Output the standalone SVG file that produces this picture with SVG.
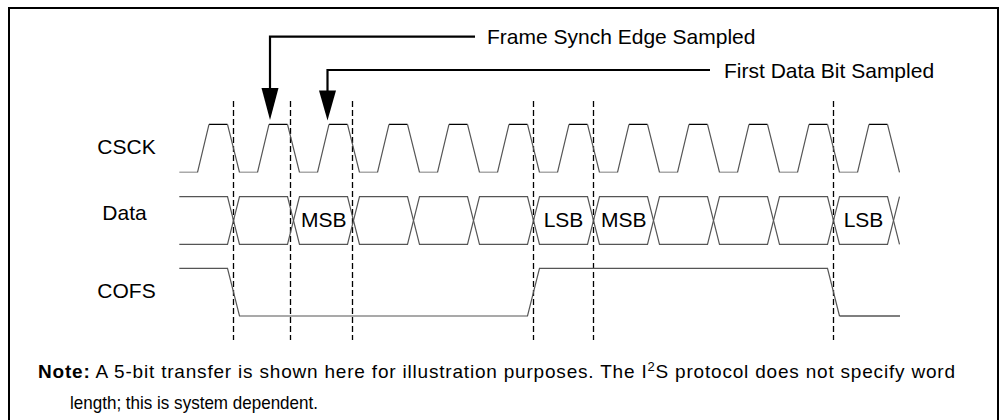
<svg xmlns="http://www.w3.org/2000/svg" width="1005" height="420" viewBox="0 0 1005 420">
<style>
  .lbl { font-family: "Liberation Sans", Arial, sans-serif; font-size: 21px; fill: #000; }
  .note { font-family: "Liberation Sans", Arial, sans-serif; font-size: 19px; fill: #000; }
  .wave { fill: none; stroke: #555; stroke-width: 1.2; }
  .hi { fill: none; stroke: #000; stroke-width: 1.2; }
  .lo { fill: none; stroke: #aaa; stroke-width: 1.5; }
  .dash { stroke: #000; stroke-width: 1.3; stroke-dasharray: 6 3; fill: none; }
  .arr { stroke: #000; stroke-width: 2.2; fill: none; }
</style>
<rect x="0" y="0" width="1005" height="420" fill="#fff"/>
<rect id="frame" x="9" y="8" width="989" height="430" fill="none" stroke="#000" stroke-width="2"/>

<g id="dashed-markers">
  <line class="dash" x1="233.5" y1="101" x2="233.5" y2="340"/>
  <line class="dash" x1="290.5" y1="101" x2="290.5" y2="340"/>
  <line class="dash" x1="352.5" y1="101" x2="352.5" y2="340"/>
  <line class="dash" x1="533.5" y1="101" x2="533.5" y2="340"/>
  <line class="dash" x1="593.5" y1="101" x2="593.5" y2="340"/>
  <line class="dash" x1="833.5" y1="101" x2="833.5" y2="340"/>
</g>

<g id="csck">
  <text class="lbl" x="126.5" y="154.3" text-anchor="middle">CSCK</text>
  <path class="lo" d="M179.3 172.3H197.5 M239.5 172.3H257.5 M299.5 172.3H317.5 M359.5 172.3H377.5 M419.5 172.3H437.5 M479.5 172.3H497.5 M539.5 172.3H557.5 M599.5 172.3H617.5 M659.5 172.3H677.5 M719.5 172.3H737.5 M779.5 172.3H797.5 M839.5 172.3H857.5"/>
  <path class="hi" d="M209 124.3H227.5 M269 124.3H287.5 M329 124.3H347.5 M389 124.3H407.5 M449 124.3H467.5 M509 124.3H527.5 M569 124.3H587.5 M629 124.3H647.5 M689 124.3H707.5 M749 124.3H767.5 M809 124.3H827.5 M869 124.3H887.5"/>
  <path class="wave" d="M197.5 172.3L209 124.3M227.5 124.3L239.5 172.3 M257.5 172.3L269 124.3M287.5 124.3L299.5 172.3 M317.5 172.3L329 124.3M347.5 124.3L359.5 172.3 M377.5 172.3L389 124.3M407.5 124.3L419.5 172.3 M437.5 172.3L449 124.3M467.5 124.3L479.5 172.3 M497.5 172.3L509 124.3M527.5 124.3L539.5 172.3 M557.5 172.3L569 124.3M587.5 124.3L599.5 172.3 M617.5 172.3L629 124.3M647.5 124.3L659.5 172.3 M677.5 172.3L689 124.3M707.5 124.3L719.5 172.3 M737.5 172.3L749 124.3M767.5 124.3L779.5 172.3 M797.5 172.3L809 124.3M827.5 124.3L839.5 172.3 M857.5 172.3L869 124.3M887.5 124.3L899.5 172.3"/>
</g>

<g id="data">
  <text class="lbl" x="124.5" y="220" text-anchor="middle">Data</text>
  <path class="wave" d="M179.3 196.7H227.5L239.5 244.3H287.5L299.5 196.7H347.5L359.5 244.3H407.5L419.5 196.7H467.5L479.5 244.3H527.5L539.5 196.7H587.5L599.5 244.3H647.5L659.5 196.7H707.5L719.5 244.3H767.5L779.5 196.7H827.5L839.5 244.3H887.5L899.5 196.7"/>
  <path class="wave" d="M179.3 244.3H227.5L239.5 196.7H287.5L299.5 244.3H347.5L359.5 196.7H407.5L419.5 244.3H467.5L479.5 196.7H527.5L539.5 244.3H587.5L599.5 196.7H647.5L659.5 244.3H707.5L719.5 196.7H767.5L779.5 244.3H827.5L839.5 196.7H887.5L899.5 244.3"/>
  <text class="lbl" x="323.8" y="226.5" text-anchor="middle">MSB</text>
  <text class="lbl" x="563.5" y="226.5" text-anchor="middle">LSB</text>
  <text class="lbl" x="623.8" y="226.5" text-anchor="middle">MSB</text>
  <text class="lbl" x="863.5" y="226.5" text-anchor="middle">LSB</text>
</g>

<g id="cofs">
  <text class="lbl" x="126.5" y="298.3" text-anchor="middle">COFS</text>
  <path class="wave" d="M179.3 268.3H227.5L239.5 316H527.5L539.5 268.3H827.5L839.5 316"/>
  <path class="hi" d="M839.5 316H900"/>
</g>

<g id="callouts">
  <path class="arr" d="M475 36.7H270V92"/>
  <polygon points="261.5,88 278.5,88 270,120" fill="#000"/>
  <text class="lbl" x="487" y="44" >Frame Synch Edge Sampled</text>
  <path class="arr" d="M710 70H327.5V94"/>
  <polygon points="319,90.5 336,90.5 327.5,120.5" fill="#000"/>
  <text class="lbl" x="724" y="78.3">First Data Bit Sampled</text>
</g>

<g id="note">
  <text class="note" x="38" y="378" textLength="917" lengthAdjust="spacing"><tspan font-weight="bold">Note:</tspan> A 5-bit transfer is shown here for illustration purposes. The I<tspan dy="-7" font-size="13">2</tspan><tspan dy="7">S protocol does not specify word</tspan></text>
  <text class="note" x="70" y="409" textLength="248" lengthAdjust="spacingAndGlyphs">length; this is system dependent.</text>
</g>
</svg>
